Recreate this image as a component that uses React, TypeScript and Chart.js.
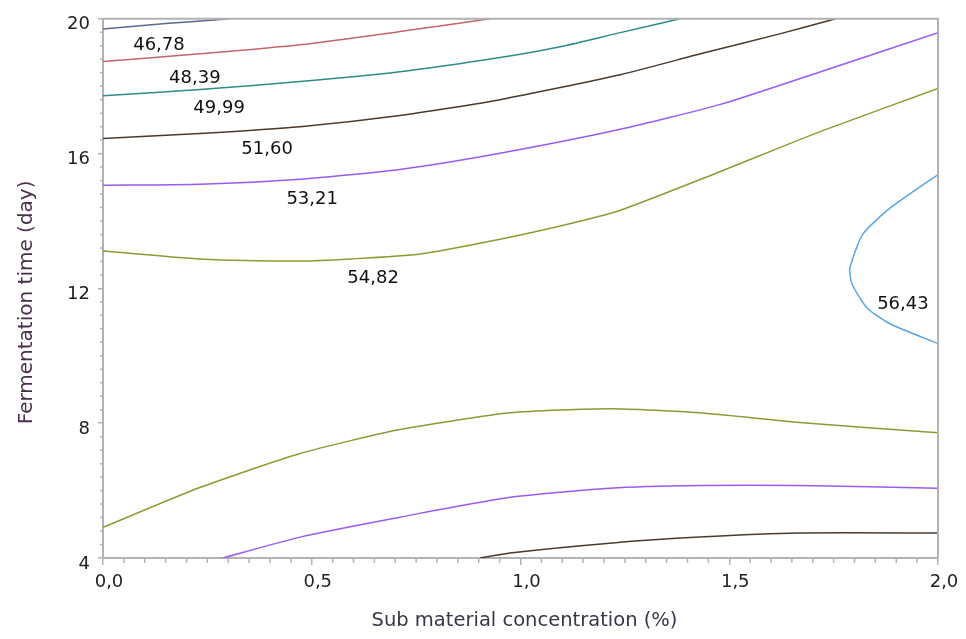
import { useEffect, useRef } from "react";
import { Chart, registerables } from "chart.js";

Chart.register(...registerables);

// Axis ticks
const xTickValues = [0, 0.5, 1.0, 1.5, 2.0];
const yTickValues = [4, 8, 12, 16, 20];

// Contour lines (x = Sub material concentration %, y = Fermentation time day)
const c4678X = [0, 0.15, 0.304];
const c4678Y = [19.7, 19.86, 20.0];

const c4839X = [0, 0.232, 0.472, 0.711, 0.927];
const c4839Y = [18.73, 18.96, 19.23, 19.62, 20.0];

const c4999X = [0, 0.232, 0.472, 0.711, 0.951, 1.095, 1.239, 1.382];
const c4999Y = [17.72, 17.9, 18.14, 18.43, 18.85, 19.17, 19.59, 20.0];

const c5160X = [0, 0.232, 0.472, 0.711, 0.951, 1.239, 1.431, 1.623, 1.755];
const c5160Y = [16.45, 16.6, 16.8, 17.13, 17.6, 18.34, 18.96, 19.56, 20.0];

const c5321X = [0, 0.232, 0.472, 0.711, 0.951, 1.239, 1.479, 1.719, 2.0];
const c5321Y = [15.06, 15.09, 15.24, 15.53, 16.01, 16.72, 17.46, 18.43, 19.59];

const c5482X = [0, 0.232, 0.472, 0.592, 0.76, 0.951, 1.095, 1.239, 1.479, 1.719, 2.0];
const c5482Y = [13.11, 12.87, 12.81, 12.87, 13.02, 13.46, 13.85, 14.32, 15.47, 16.66, 17.93];

const c5643X = [2.0, 1.885, 1.82, 1.789, 1.794, 1.83, 1.885, 2.0];
const c5643Y = [15.38, 14.38, 13.61, 12.6, 12.13, 11.42, 10.95, 10.36];

const c5482bX = [0, 0.232, 0.472, 0.711, 0.975, 1.214, 1.429, 1.668, 2.0];
const c5482bY = [4.91, 6.09, 7.1, 7.81, 8.31, 8.43, 8.31, 8.02, 7.72];

const c5321bX = [0.287, 0.472, 0.711, 0.975, 1.214, 1.429, 1.668, 2.0];
const c5321bY = [4.0, 4.62, 5.21, 5.8, 6.07, 6.15, 6.15, 6.07];

const c5160bX = [0.903, 0.975, 1.214, 1.429, 1.668, 2.0];
const c5160bY = [4.0, 4.15, 4.44, 4.62, 4.74, 4.74];

// Contour labels
const labelTexts = ["46,78", "48,39", "49,99", "51,60", "53,21", "54,82", "56,43"];
const labelX = [0.134, 0.22, 0.278, 0.393, 0.501, 0.647, 1.916];
const labelY = [19.2, 18.23, 17.34, 16.12, 14.65, 12.31, 11.54];

const xTitle = "Sub material concentration (%)";
const yTitle = "Fermentation time (day)";

const COL_SLATE = "#5d6796";
const COL_RED = "#c4646c";
const COL_TEAL = "#2e8b8b";
const COL_BROWN = "#4b3a2c";
const COL_PURPLE = "#9a5cf0";
const COL_OLIVE = "#8f9a34";
const COL_LBLUE = "#58a6e2";
const AXIS_COL = "#b2b2b2";

function pts(xs: number[], ys: number[]) {
  return xs.map((x, i) => ({ x, y: ys[i] }));
}

const fmt = (v: number) => v.toFixed(1).replace(".", ",");

export default function App() {
  const ref = useRef<HTMLCanvasElement | null>(null);

  useEffect(() => {
    document.body.style.margin = "0";
    const canvas = ref.current;
    if (!canvas) return;

    const mk = (xs: number[], ys: number[], color: string) => ({
      data: pts(xs, ys),
      borderColor: color,
      borderWidth: 1.5,
      showLine: true,
      pointRadius: 0,
      tension: 0.2,
      fill: false,
    });

    const decor = {
      id: "decor",
      afterDraw(chart: any) {
        const ctx = chart.ctx;
        const xs = chart.scales.x;
        const ys = chart.scales.y;
        const area = chart.chartArea;
        ctx.save();
        ctx.strokeStyle = AXIS_COL;
        ctx.lineWidth = 2;
        // top & right border
        ctx.beginPath();
        ctx.moveTo(area.left, area.top);
        ctx.lineTo(area.right, area.top);
        ctx.lineTo(area.right, area.bottom);
        ctx.stroke();
        // minor ticks
        ctx.lineWidth = 1.5;
        ctx.beginPath();
        for (let i = 0; i <= 40; i++) {
          if (i % 10 === 0) continue;
          const px = xs.getPixelForValue(i * 0.05);
          ctx.moveTo(px, area.bottom);
          ctx.lineTo(px, area.bottom + 5);
        }
        for (let i = 0; i <= 40; i++) {
          if (i % 10 === 0) continue;
          const py = ys.getPixelForValue(4 + i * 0.4);
          ctx.moveTo(area.left, py);
          ctx.lineTo(area.left - 3, py);
        }
        ctx.stroke();
        // contour labels
        ctx.fillStyle = "#111111";
        ctx.font = "18px 'DejaVu Sans'";
        ctx.textAlign = "center";
        ctx.textBaseline = "middle";
        labelTexts.forEach((t, i) => {
          ctx.fillText(t, xs.getPixelForValue(labelX[i]), ys.getPixelForValue(labelY[i]));
        });
        // axis titles
        ctx.fillStyle = "#3c3349";
        ctx.font = "19.5px 'DejaVu Sans'";
        ctx.fillText(xTitle, (area.left + area.right) / 2 + 4, 621);
        ctx.save();
        ctx.translate(27, (area.top + area.bottom) / 2 + 14);
        ctx.rotate(-Math.PI / 2);
        ctx.fillStyle = "#4a2f4c";
        ctx.font = "20px 'DejaVu Sans'";
        ctx.fillText(yTitle, 0, 0);
        ctx.restore();
        ctx.restore();
      },
    };

    const chart = new Chart(canvas, {
      type: "scatter",
      data: {
        datasets: [
          mk(c4678X, c4678Y, COL_SLATE),
          mk(c4839X, c4839Y, COL_RED),
          mk(c4999X, c4999Y, COL_TEAL),
          mk(c5160X, c5160Y, COL_BROWN),
          mk(c5321X, c5321Y, COL_PURPLE),
          mk(c5482X, c5482Y, COL_OLIVE),
          mk(c5643X, c5643Y, COL_LBLUE),
          mk(c5482bX, c5482bY, COL_OLIVE),
          mk(c5321bX, c5321bY, COL_PURPLE),
          mk(c5160bX, c5160bY, COL_BROWN),
        ] as any,
      },
      options: {
        responsive: false,
        animation: false,
        layout: { padding: { left: 0, top: 16, right: 28, bottom: 0 } },
        plugins: { legend: { display: false }, tooltip: { enabled: false } },
        scales: {
          x: {
            type: "linear",
            min: 0,
            max: 2,
            afterFit(scale: any) {
              scale.height = 81;
            },
            afterBuildTicks(scale: any) {
              scale.ticks = xTickValues.map((v) => ({ value: v }));
            },
            ticks: {
              callback: (v: any) => fmt(Number(v)),
              color: "#222222",
              font: { family: "'DejaVu Sans'", size: 18 },
              padding: 7,
              labelOffset: 6,
              maxRotation: 0,
            },
            grid: {
              display: true,
              drawOnChartArea: false,
              drawTicks: true,
              tickLength: 7,
              color: AXIS_COL,
              lineWidth: 1.5,
            },
            border: { display: true, color: AXIS_COL, width: 2 },
          },
          y: {
            type: "linear",
            min: 4,
            max: 20,
            afterFit(scale: any) {
              scale.width = 103;
            },
            afterBuildTicks(scale: any) {
              scale.ticks = yTickValues.map((v) => ({ value: v }));
            },
            ticks: {
              callback: (v: any) => String(v),
              color: "#222222",
              font: { family: "'DejaVu Sans'", size: 18 },
              padding: 8,
              labelOffset: 6,
            },
            grid: {
              display: true,
              drawOnChartArea: false,
              drawTicks: true,
              tickLength: 5,
              color: AXIS_COL,
              lineWidth: 1.5,
            },
            border: { display: true, color: AXIS_COL, width: 2 },
          },
        },
      },
      plugins: [decor],
    });

    return () => chart.destroy();
  }, []);

  return (
    <div style={{ width: 966, height: 639, background: "#fff" }}>
      <canvas ref={ref} width={966} height={639} style={{ display: "block" }} />
    </div>
  );
}
